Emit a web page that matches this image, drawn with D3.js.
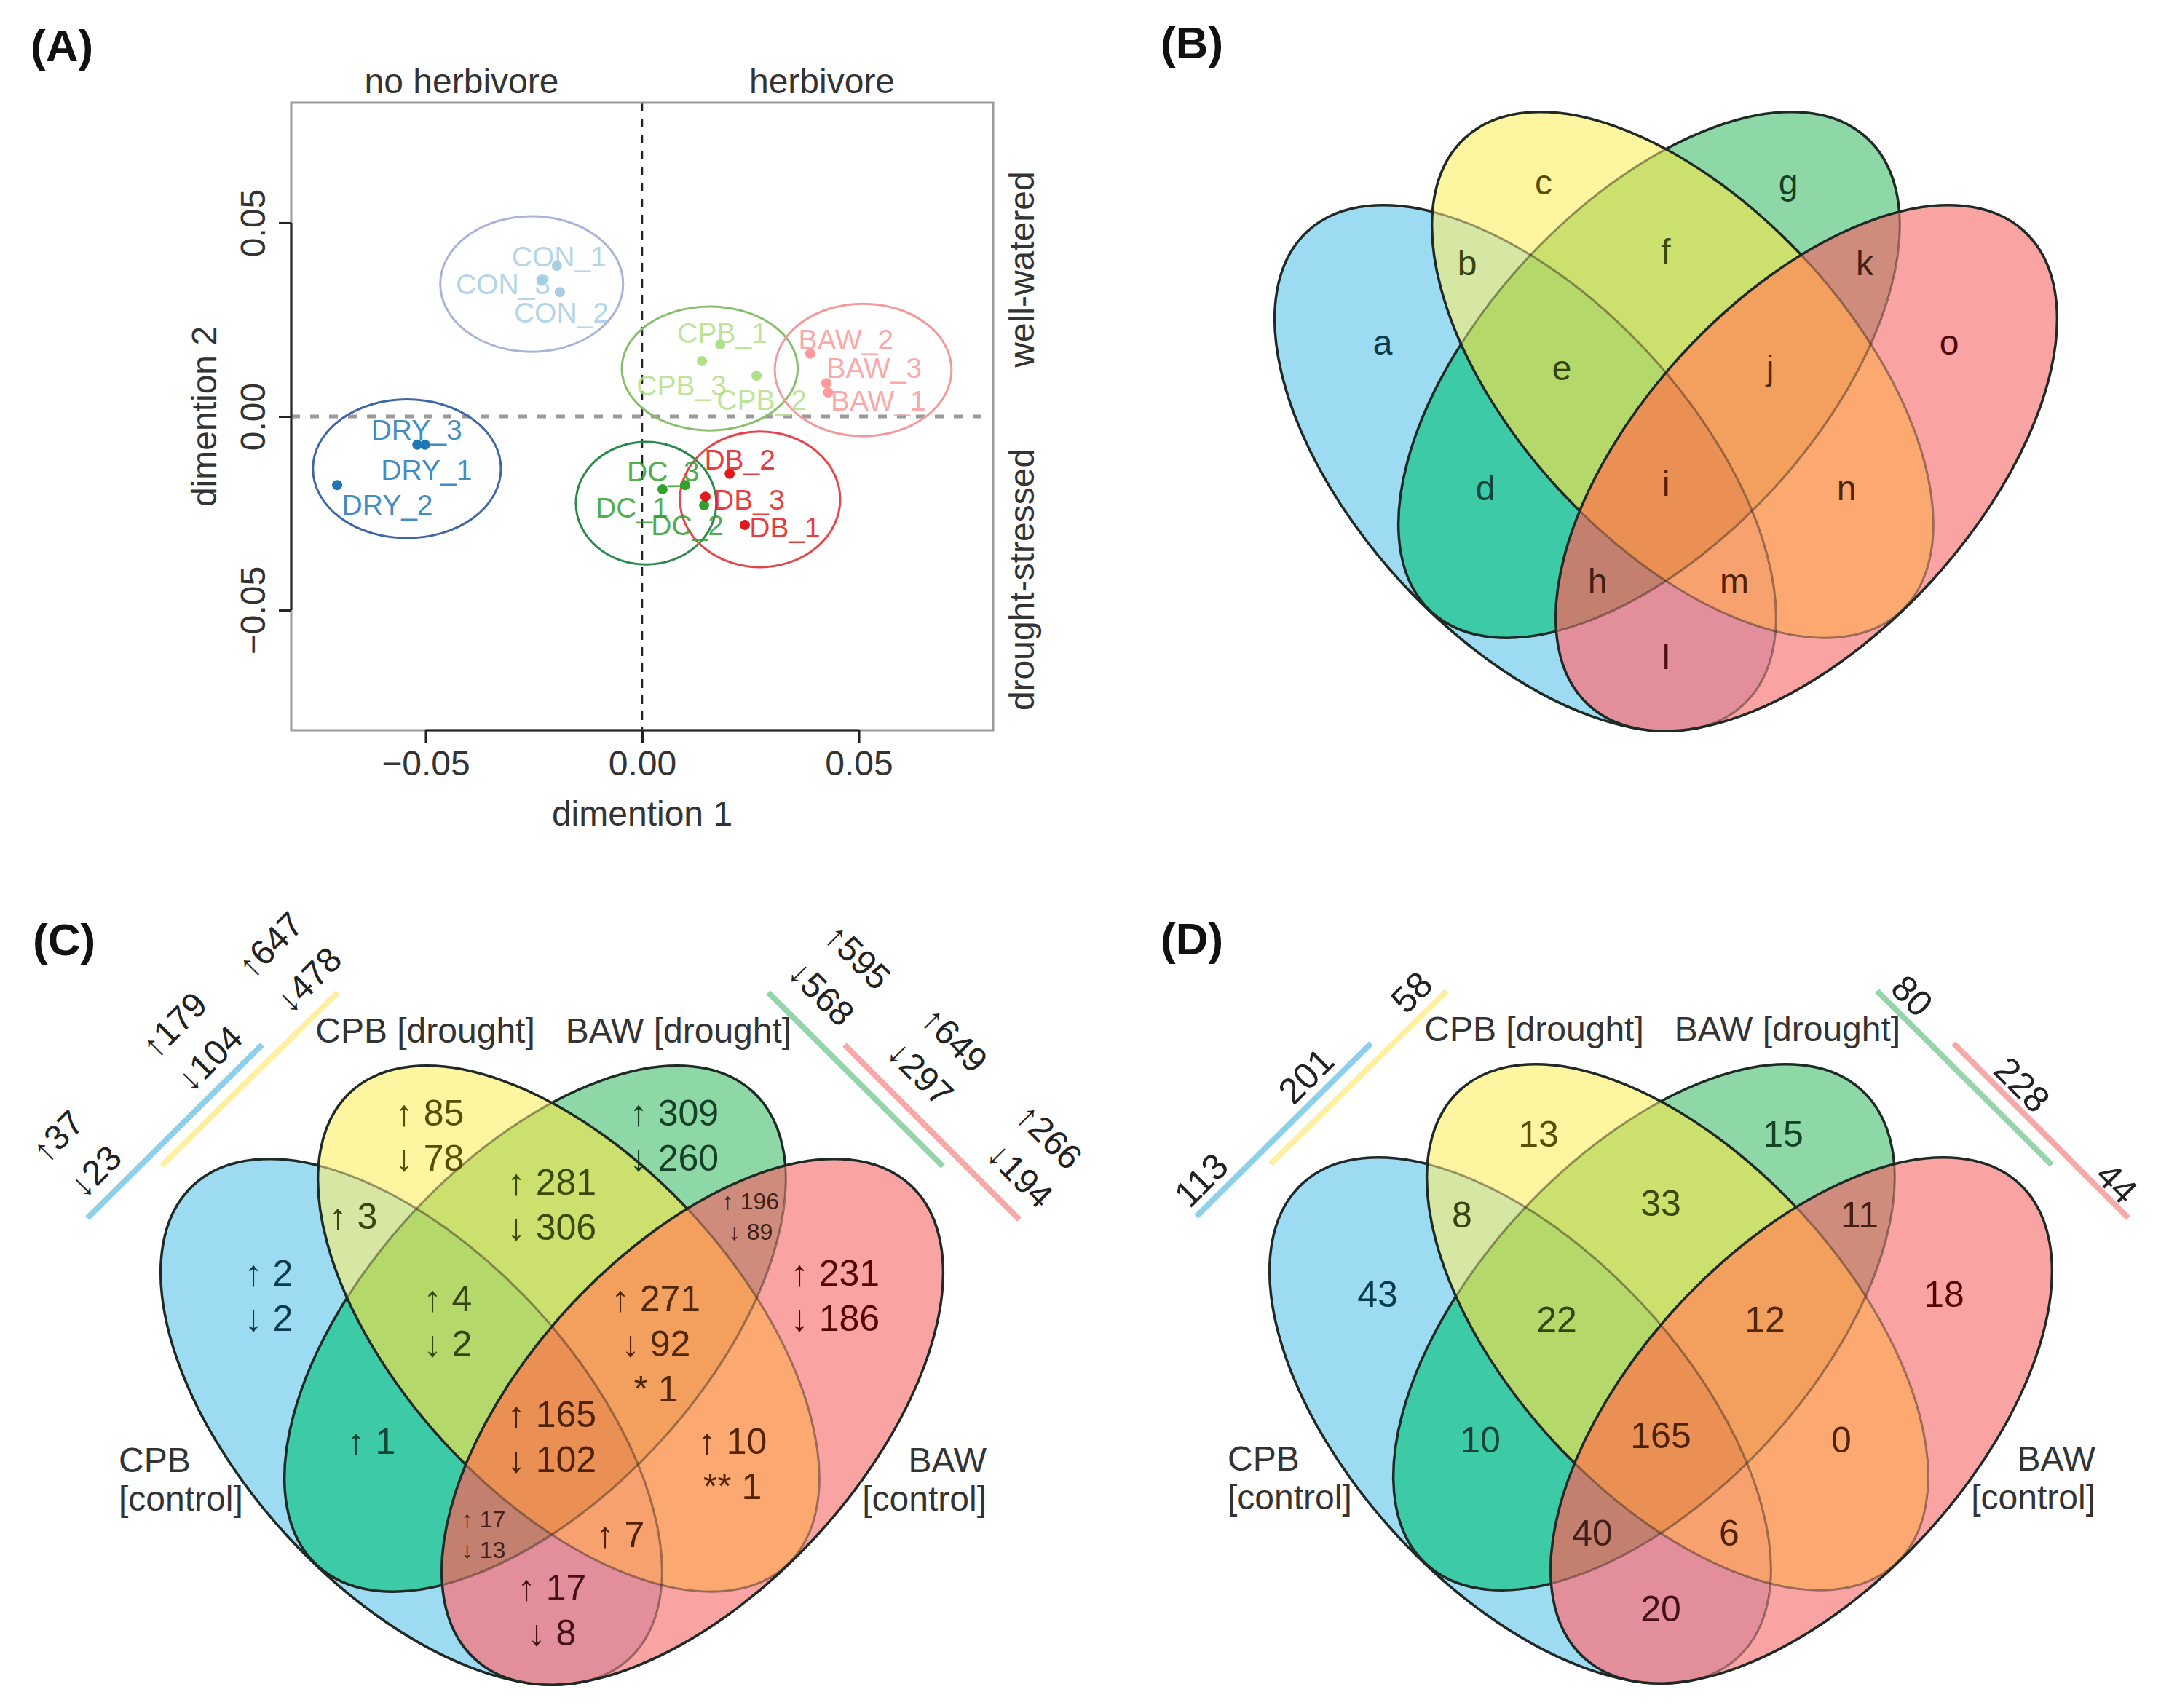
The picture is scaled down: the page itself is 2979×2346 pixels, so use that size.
<!DOCTYPE html>
<html>
<head>
<meta charset="utf-8">
<script src="https://d3js.org/d3.v7.min.js"></script>
<style>
  body { margin: 0; background: #fff; }
  text { font-family: "Liberation Sans", Arial, Helvetica, sans-serif; }
</style>
</head>
<body>
<script>
const W = 2979, H = 2346;

// ---------- panel A : MDS plot ----------
const samples = ["CON_1","CON_2","CON_3","DRY_1","DRY_2","DRY_3","CPB_1","CPB_2","CPB_3",
                 "BAW_1","BAW_2","BAW_3","DC_1","DC_2","DC_3","DB_1","DB_2","DB_3"];
const dim1 = [-0.0197,-0.0190,-0.0232,-0.0501,-0.0704,-0.0519,0.0180,0.0264,0.0138,
              0.0429,0.0388,0.0425,0.0047,0.0143,0.0099,0.0237,0.0202,0.0146];
const dim2 = [0.0389,0.0321,0.0350,-0.0073,-0.0177,-0.0073,0.0186,0.0105,0.0143,
              0.0062,0.0162,0.0086,-0.0188,-0.0229,-0.0177,-0.0280,-0.0148,-0.0207];
const groups = ["CON","DRY","CPB","DC","BAW","DB"];
const ellCx = [-0.0255,-0.0543,0.0156,0.0009,0.0510,0.0272];
const ellCy = [0.0342,-0.0135,0.0124,-0.0224,0.0120,-0.0214];
const ellRx = [0.0211,0.0217,0.0203,0.0162,0.0204,0.0185];
const ellRy = [0.0175,0.0179,0.0160,0.0158,0.0171,0.0175];
const axisTicks = [-0.05, 0, 0.05];

// ---------- panels B-D : Venn diagrams ----------
const regionIds = ["a","b","c","d","e","f","g","h","i","j","k","l","m","n","o"];
const regionSets = ["B","BY","Y","BG","BYG","YG","G","BGP","BYGP","YGP","GP","BP","BYP","YP","P"];
const regionUp   = [2,3,85,1,4,281,309,17,165,271,196,17,7,10,231];
const regionDown = [2,null,78,null,2,306,260,13,102,92,89,8,null,null,186];
const regionNote = [null,null,null,null,null,null,null,null,null,"* 1",null,null,null,"** 1",null];
const regionShared = [43,8,13,10,22,33,15,40,165,12,11,20,6,0,18];
const setDrought = ["CPB [drought]","BAW [drought]"];
const setControl = [["CPB","[control]"],["BAW","[control]"]];
const sideC = ["↑37","↓23","↑179","↓104","↑647","↓478","↑595","↓568","↑649","↓297","↑266","↓194"];
const sideD = ["113","201","58","80","228","44"];

// ---------- styles / layout ----------
const groupColors = ["#a6cee3","#1f78b4","#b2df8a","#33a02c","#fb9a99","#e31a1c"];
const ellStroke = ["#aab4d8","#4166a6","#86c06a","#2a8a4e","#f39a9c","#e2474c"];
const labelDx = [3,2,-53,2,69,-1,3,7,-28,69,49,66,-42,-23,-30,55,14,60];
const labelDy = [-13,28,5,35,27,-20,-16,33,34,11,-19,-21,25,28,-19,4,-19,4];

const regionFill = ["#9ddbf2","#d5e7a3","#fef5a0","#3ccba6","#b5d86b","#cbe06d","#8ed8a8",
                    "#c4806f","#eb9055","#f39f5d","#cf8b7b","#e38e9b","#f7a16f","#fba871","#faa3a3"];
const labelX = [-389,-273,-168,-248,-143,0,168,-94,0,143,273,0,94,248,389];
const labelY = [470,361,250,670,505,345,250,798,664,505,361,902,798,670,470];
const vennShapes = [
  {key:"B", cx:-193, cy:643, rot: 47.4},
  {key:"Y", cx:  23, cy:515, rot: 47.4},
  {key:"G", cx: -23, cy:515, rot:-47.4},
  {key:"P", cx: 193, cy:643, rot:-47.4}
];
const vennRa = 442, vennRb = 231.5;
const strokeOrder = ["B","G","Y","P"];
const sideLines = [
  {c:"#8ecfec", x1:-638, y1:363, x2:-398, y2:125},
  {c:"#fdf0a0", x1:-536, y1:291, x2:-294, y2:53},
  {c:"#96d4aa", x1: 297, y1:53,  x2: 537, y2:292},
  {c:"#f7a8a8", x1: 402, y1:125, x2: 642, y2:365}
];
const sideCPos = [[-679,251,-45],[-627,299,-45],[-519,98,-45],[-470,144,-45],[-387,-12,-45],[-334,36,-45],
                  [420,4,45],[370,54,45],[553,118,45],[506,164,45],[683,251,45],[643,304,45]];
const sideDPos = [[-631,313,-45],[-487,170,-45],[-342,55,-45],[345,60,45],[496,182,45],[626,317,45]];

const svg = d3.select("body").append("svg")
  .attr("width", W).attr("height", H)
  .style("background", "#fff");
svg.append("rect").attr("width", W).attr("height", H).attr("fill", "#fff");
const defs = svg.append("defs");

// ================= Panel A =================
const xA = d3.scaleLinear().domain([-0.081, 0.081]).range([400, 1364]);
const yA = d3.scaleLinear().domain([-0.081, 0.081]).range([1003, 141]);
const gA = svg.append("g");

// reference lines
gA.append("line")
  .attr("x1", xA.range()[0]).attr("x2", xA.range()[1])
  .attr("y1", yA(0)).attr("y2", yA(0))
  .attr("stroke", "#9a9a9a").attr("stroke-width", 5).attr("stroke-dasharray", "12,14");
gA.append("line")
  .attr("x1", xA(0)).attr("x2", xA(0))
  .attr("y1", yA.range()[1]).attr("y2", yA.range()[0])
  .attr("stroke", "#222").attr("stroke-width", 2.5).attr("stroke-dasharray", "12,10");

// frame
gA.append("rect")
  .attr("x", xA.range()[0]).attr("y", yA.range()[1])
  .attr("width", xA.range()[1] - xA.range()[0])
  .attr("height", yA.range()[0] - yA.range()[1])
  .attr("fill", "none").attr("stroke", "#9a9a9a").attr("stroke-width", 3);

// axes
const fmt = d3.format(".2f");
const axX = gA.append("g")
  .attr("transform", `translate(0,${yA.range()[0]})`)
  .call(d3.axisBottom(xA).tickValues(axisTicks).tickSize(17).tickPadding(11).tickFormat(fmt));
const axY = gA.append("g")
  .attr("transform", `translate(${xA.range()[0]},0)`)
  .call(d3.axisLeft(yA).tickValues(axisTicks).tickSize(17).tickFormat(fmt));
[axX, axY].forEach(a => {
  a.select(".domain").remove();
  a.attr("font-family", null).attr("font-size", null);
  a.selectAll("line").attr("stroke", "#222").attr("stroke-width", 3);
  a.selectAll("text").attr("fill", "#333").style("font-size", "48px");
});
axY.selectAll("text")
  .attr("transform", "rotate(-90)")
  .attr("x", 0).attr("y", -36).attr("dy", null)
  .attr("text-anchor", "middle");
gA.append("line")
  .attr("x1", xA(-0.05)).attr("x2", xA(0.05))
  .attr("y1", yA.range()[0]).attr("y2", yA.range()[0])
  .attr("stroke", "#222").attr("stroke-width", 3);
gA.append("line")
  .attr("x1", xA.range()[0]).attr("x2", xA.range()[0])
  .attr("y1", yA(-0.05)).attr("y2", yA(0.05))
  .attr("stroke", "#222").attr("stroke-width", 3);

// axis titles and margin labels
const txt = (x, y, s, size, rot, anchor) => svg.append("text")
  .attr("transform", `translate(${x},${y})` + (rot ? ` rotate(${rot})` : ""))
  .attr("text-anchor", anchor || "middle")
  .style("font-size", size + "px").attr("fill", "#333").text(s);
txt((xA.range()[0] + xA.range()[1]) / 2, 1134, "dimention 1", 48);
txt(297, yA(0), "dimention 2", 48, -90);
txt(634, 128, "no herbivore", 48);
txt(1129, 128, "herbivore", 48);
txt(1420, 370, "well-watered", 48, -90);
txt(1420, 796, "drought-stressed", 48, -90);

// group ellipses
gA.selectAll("ellipse.grp").data(groups).join("ellipse")
  .attr("cx", (d, i) => xA(ellCx[i]))
  .attr("cy", (d, i) => yA(ellCy[i]))
  .attr("rx", (d, i) => xA(ellCx[i] + ellRx[i]) - xA(ellCx[i]))
  .attr("ry", (d, i) => yA(ellCy[i]) - yA(ellCy[i] + ellRy[i]))
  .attr("fill", "none")
  .attr("stroke", (d, i) => ellStroke[i])
  .attr("stroke-width", 3);

const gi = s => groups.indexOf(s.split("_")[0]);
gA.selectAll("text.lab").data(samples).join("text")
  .attr("x", (d, i) => xA(dim1[i]) + labelDx[i])
  .attr("y", (d, i) => yA(dim2[i]) + labelDy[i])
  .attr("text-anchor", "middle").attr("dominant-baseline", "central")
  .style("font-size", "39px")
  .attr("fill", d => groupColors[gi(d)])
  .attr("fill-opacity", 0.85)
  .text(d => d);
gA.selectAll("circle.pt").data(samples).join("circle")
  .attr("cx", (d, i) => xA(dim1[i]))
  .attr("cy", (d, i) => yA(dim2[i]))
  .attr("r", 7)
  .attr("fill", d => groupColors[gi(d)]);

// ================= Venn panels =================
function drawVenn(pid, ox, oy) {
  const vx = d3.scaleLinear().domain([0, 1000]).range([ox, ox + 1000]);
  const vy = d3.scaleLinear().domain([0, 1000]).range([oy, oy + 1000]);
  const ell = (sel, s) => sel.append("ellipse")
    .attr("cx", vx(s.cx)).attr("cy", vy(s.cy))
    .attr("rx", vennRa).attr("ry", vennRb)
    .attr("transform", `rotate(${s.rot},${vx(s.cx)},${vy(s.cy)})`);
  const bx = vx(-720), by = vy(-150), bw = 1440, bh = 1350;
  const box = sel => sel.append("rect").attr("x", bx).attr("y", by).attr("width", bw).attr("height", bh);

  vennShapes.forEach(s => ell(defs.append("clipPath").attr("id", `cp-${pid}-${s.key}`), s));
  const g = svg.append("g");

  regionSets.forEach((set, i) => {
    const m = defs.append("mask").attr("id", `mk-${pid}-${i}`)
      .attr("maskUnits", "userSpaceOnUse")
      .attr("x", bx).attr("y", by).attr("width", bw).attr("height", bh);
    box(m).attr("fill", "#fff");
    vennShapes.filter(s => !set.includes(s.key)).forEach(s => ell(m, s).attr("fill", "#000"));
    let node = g;
    vennShapes.filter(s => set.includes(s.key)).forEach(s => {
      node = node.append("g").attr("clip-path", `url(#cp-${pid}-${s.key})`);
    });
    box(node).attr("fill", regionFill[i]).attr("mask", `url(#mk-${pid}-${i})`);
  });

  // outlines: dark where on top, tinted where later ellipses cover them
  // (mask / clip sit on an untransformed wrapper group)
  strokeOrder.forEach((k, j) => {
    const s = vennShapes.find(d => d.key === k);
    const later = strokeOrder.slice(j + 1).map(kk => vennShapes.find(d => d.key === kk));
    const m = defs.append("mask").attr("id", `sm-${pid}-${k}`)
      .attr("maskUnits", "userSpaceOnUse")
      .attr("x", bx).attr("y", by).attr("width", bw).attr("height", bh);
    box(m).attr("fill", "#fff");
    later.forEach(l => ell(m, l).attr("fill", "#000"));
    ell(g.append("g").attr("mask", `url(#sm-${pid}-${k})`), s)
      .attr("fill", "none").attr("stroke", "#1f2a26").attr("stroke-width", 3.5);
    if (later.length) {
      const cu = defs.append("clipPath").attr("id", `su-${pid}-${k}`);
      later.forEach(l => ell(cu, l));
      ell(g.append("g").attr("clip-path", `url(#su-${pid}-${k})`), s)
        .attr("fill", "none").attr("stroke", "#2a1a10").attr("stroke-opacity", 0.45)
        .attr("stroke-width", 3);
    }
  });
  return {g, vx, vy};
}
const darkOf = i => { const c = d3.hsl(regionFill[i]); c.l = 0.17; return c.formatHex(); };

function setLabels(v) {
  const {g, vx, vy} = v;
  [-174, 174].forEach((x, i) => g.append("text")
    .attr("x", vx(x)).attr("y", vy(122)).attr("text-anchor", "middle")
    .style("font-size", "48px").attr("fill", "#333").text(setDrought[i]));
  [[-595, "start"], [597, "end"]].forEach(([x, anc], i) => setControl[i].forEach((s, k) =>
    g.append("text").attr("x", vx(x)).attr("y", vy(712 + k * 53)).attr("text-anchor", anc)
      .style("font-size", "48px").attr("fill", "#333").text(s)));
  sideLines.forEach(l => g.append("line")
    .attr("x1", vx(l.x1)).attr("y1", vy(l.y1)).attr("x2", vx(l.x2)).attr("y2", vy(l.y2))
    .attr("stroke", l.c).attr("stroke-width", 8));
}
const sideText = (v, labels, pos, size) => labels.forEach((s, i) => v.g.append("text")
  .attr("transform", `translate(${v.vx(pos[i][0])},${v.vy(pos[i][1])}) rotate(${pos[i][2]})`)
  .attr("text-anchor", "middle").attr("dominant-baseline", "central")
  .style("font-size", size + "px").attr("fill", "#222").text(s));

// ---- panel B ----
const vB = drawVenn("B", 2288, 0);
regionIds.forEach((r, i) => vB.g.append("text")
  .attr("x", vB.vx(labelX[i])).attr("y", vB.vy(labelY[i]))
  .attr("text-anchor", "middle").attr("dominant-baseline", "central")
  .style("font-size", "48px").attr("fill", darkOf(i)).text(r));

// ---- panel C ----
const vC = drawVenn("C", 758, 1310);
setLabels(vC);
sideText(vC, sideC, sideCPos, 48);
regionIds.forEach((r, i) => {
  const small = (r === "h" || r === "k");
  const main = [];
  if (regionUp[i] != null) main.push("↑ " + regionUp[i]);
  if (regionDown[i] != null) main.push("↓ " + regionDown[i]);
  const lines = regionNote[i] ? main.concat([regionNote[i]]) : main;
  const step = small ? 42 : 62;
  const y0 = vC.vy(labelY[i]) - step * (main.length - 1) / 2;
  lines.forEach((s, k) => vC.g.append("text")
    .attr("x", vC.vx(labelX[i])).attr("y", y0 + k * step)
    .attr("text-anchor", "middle").attr("dominant-baseline", "central")
    .style("font-size", (small ? 32 : 50) + "px").attr("fill", darkOf(i)).text(s));
});

// ---- panel D ----
const vD = drawVenn("D", 2281, 1308);
setLabels(vD);
sideText(vD, sideD, sideDPos, 50);
regionIds.forEach((r, i) => vD.g.append("text")
  .attr("x", vD.vx(labelX[i])).attr("y", vD.vy(labelY[i]))
  .attr("text-anchor", "middle").attr("dominant-baseline", "central")
  .style("font-size", "50px").attr("fill", darkOf(i)).text(regionShared[i]));

// panel tags
[["(A)", 42, 84], ["(B)", 1594, 80], ["(C)", 45, 1312], ["(D)", 1594, 1311]].forEach(([s, x, y]) =>
  svg.append("text").attr("x", x).attr("y", y)
    .style("font-size", "62px").style("font-weight", "bold").attr("fill", "#111").text(s));
</script>
</body>
</html>
